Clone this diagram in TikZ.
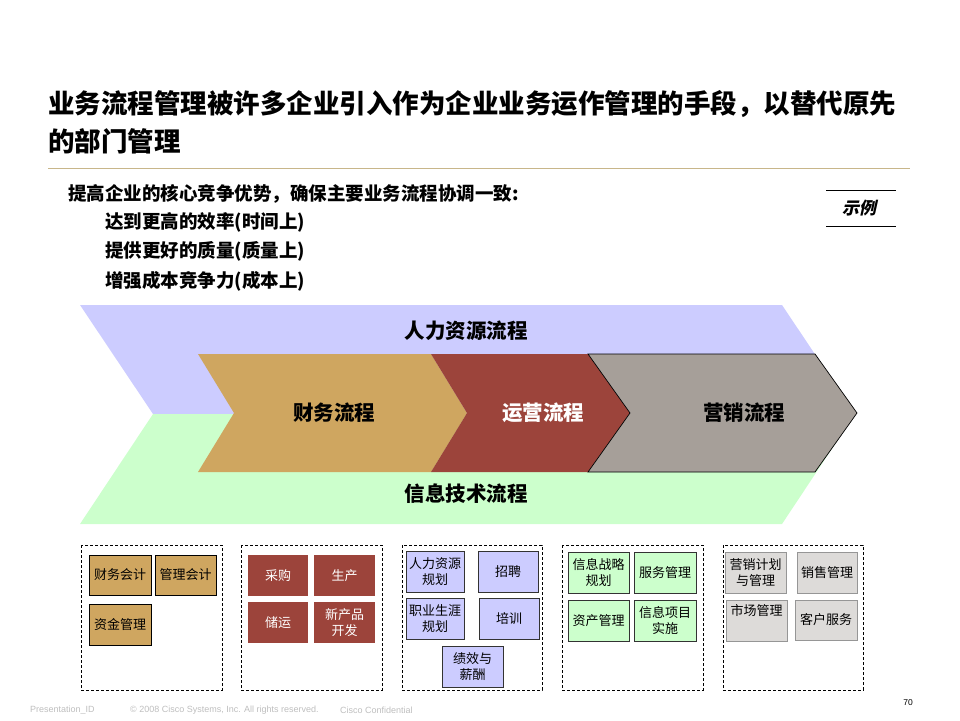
\documentclass[tikz,border=0pt]{standalone}
\usepackage{fontspec}
\setmainfont{Noto Sans CJK SC}
\newfontfamily\slantcjk{Noto Sans CJK SC}[FakeSlant=0.22]
\newfontfamily\latinsans{Liberation Sans}
\usetikzlibrary{positioning}
\definecolor{hrpurple}{RGB}{204,204,255}
\definecolor{itgreen}{RGB}{204,255,204}
\definecolor{fintan}{RGB}{207,166,96}
\definecolor{opred}{RGB}{156,68,59}
\definecolor{mkgrey}{RGB}{166,159,153}
\definecolor{boxgrey}{RGB}{221,219,217}
\definecolor{boxgreyline}{RGB}{150,150,150}
\definecolor{ruletan}{RGB}{200,182,138}
\definecolor{footgrey}{RGB}{190,190,190}
\tikzset{
  bandlabel/.style={font=\fontsize{20.5}{24}\selectfont\bfseries, inner sep=0pt},
  group/.style={draw=black, line width=0.8pt, dash pattern=on 3pt off 2pt},
  itembox/.style={font=\fontsize{13}{16}\selectfont, align=center, inner sep=0pt},
  tanbox/.style={itembox, fill=fintan, draw=black, line width=1pt},
  redbox/.style={itembox, fill=opred, text=white},
  purplebox/.style={itembox, fill=hrpurple, draw=black!80, line width=0.8pt},
  greenbox/.style={itembox, fill=itgreen, draw=black!80, line width=0.8pt},
  greybox/.style={itembox, fill=boxgrey, draw=boxgreyline, line width=0.8pt},
  sub/.style={font=\fontsize{18.5}{22}\selectfont\bfseries, anchor=base west, inner sep=0pt},
  foot/.style={font=\latinsans\fontsize{9}{11}\selectfont, text=footgrey, anchor=west, inner sep=0pt}
}
\begin{document}
\begin{tikzpicture}[x=1pt,y=-1pt]
\useasboundingbox (0,0) rectangle (960,720);
% title
\node[anchor=base west, inner sep=0pt, align=left, font=\fontsize{26.5}{38}\selectfont\bfseries] (title) at (48,151)
  {业务流程管理被许多企业引入作为企业业务运作管理的手段，以替代原先\\的部门管理};
\draw[ruletan, line width=0.8pt] (48,168) -- (910,168);
% subtitle lines
\node[sub] (s1) at (68,200) {提高企业的核心竞争优势，确保主要业务流程协调一致:};
\node[sub] (s2) at (105,228) {达到更高的效率(时间上)};
\node[sub] (s3) at (105,257) {提供更好的质量(质量上)};
\node[sub] (s4) at (105,287) {增强成本竞争力(成本上)};
% example tag
\draw[black, line width=0.8pt] (826,190) -- (896,190);
\draw[black, line width=0.8pt] (826,226) -- (896,226);
\node[inner sep=0pt, font=\slantcjk\fontsize{17}{20}\selectfont\bfseries] (example) at (859,208) {示例};
% background bands
\fill[hrpurple] (80,305) -- (782,305) -- (855,414) -- (153,414) -- cycle;
\fill[itgreen] (153,414) -- (855,414) -- (782,524) -- (80,524) -- cycle;
% chevrons
\fill[fintan] (198,354) -- (431,354) -- (467,413) -- (431,472) -- (198,472) -- (234,413) -- cycle;
\fill[opred] (431,354) -- (588,354) -- (630,413) -- (588,472) -- (431,472) -- (467,413) -- cycle;
\filldraw[fill=mkgrey, draw=black, line width=0.7pt] (588,354) -- (815,354) -- (857,413) -- (815,472) -- (588,472) -- (630,413) -- cycle;
\node[bandlabel] (hr) at (466,331) {人力资源流程};
\node[bandlabel] (fin) at (334,413) {财务流程};
\node[bandlabel, text=white] (ops) at (543,413) {运营流程};
\node[bandlabel] (mkt) at (744,413) {营销流程};
\node[bandlabel] (it) at (466,494) {信息技术流程};
% groups
\draw[group] (81,545) rectangle (222,690);
\draw[group] (241,545) rectangle (382,690);
\draw[group] (402,545) rectangle (542,690);
\draw[group] (562,545) rectangle (703,690);
\draw[group] (723,545) rectangle (863,690);
% group 1
\node[tanbox, minimum width=62pt, minimum height=40pt] (g1a) at (120,575) {财务会计};
\node[tanbox, minimum width=61pt, minimum height=40pt] (g1b) at (185.5,575) {管理会计};
\node[tanbox, minimum width=62pt, minimum height=41pt] (g1c) at (120,624.5) {资金管理};
% group 2
\node[redbox, minimum width=60pt, minimum height=41pt] (g2a) at (278,575.5) {采购};
\node[redbox, minimum width=61pt, minimum height=41pt] (g2b) at (344.5,575.5) {生产};
\node[redbox, minimum width=60pt, minimum height=41pt] (g2c) at (278,622.5) {储运};
\node[redbox, minimum width=61pt, minimum height=41pt] (g2d) at (344.5,622.5) {新产品\\开发};
% group 3
\node[purplebox, minimum width=58pt, minimum height=41pt] (g3a) at (435,571.5) {人力资源\\规划};
\node[purplebox, minimum width=60pt, minimum height=41pt] (g3b) at (508,571.5) {招聘};
\node[purplebox, minimum width=58pt, minimum height=41pt] (g3c) at (435,618.5) {职业生涯\\规划};
\node[purplebox, minimum width=60pt, minimum height=41pt] (g3d) at (509,618.5) {培训};
\node[purplebox, minimum width=61pt, minimum height=41pt] (g3e) at (472.5,666.5) {绩效与\\薪酬};
% group 4
\node[greenbox, minimum width=61pt, minimum height=41pt] (g4a) at (598.5,572.5) {信息战略\\规划};
\node[greenbox, minimum width=62pt, minimum height=41pt] (g4b) at (665,572.5) {服务管理};
\node[greenbox, minimum width=61pt, minimum height=41pt] (g4c) at (598.5,620.5) {资产管理};
\node[greenbox, minimum width=62pt, minimum height=41pt] (g4d) at (665,620.5) {信息项目\\实施};
% group 5
\node[greybox, minimum width=61pt, minimum height=41pt] (g5a) at (755.5,572.5) {营销计划\\与管理};
\node[greybox, minimum width=60pt, minimum height=41pt] (g5b) at (827,572.5) {销售管理};
\node[greybox, minimum width=61pt, minimum height=41pt] (g5c) at (756.5,620.5) {};
\node[itembox, anchor=north] (g5ct) at (756.5,604) {市场管理};
\node[greybox, minimum width=62pt, minimum height=40pt] (g5d) at (826,620) {客户服务};
% footer
\node[foot] (f1) at (30,710) {Presentation\_ID};
\node[foot] (f2) at (130,710) {© 2008 Cisco Systems, Inc. All rights reserved.};
\node[foot] (f3) at (340,710) {Cisco Confidential};
\node[inner sep=0pt, font=\latinsans\fontsize{8.5}{10}\selectfont] (page) at (908,703) {70};
\end{tikzpicture}
\end{document}
